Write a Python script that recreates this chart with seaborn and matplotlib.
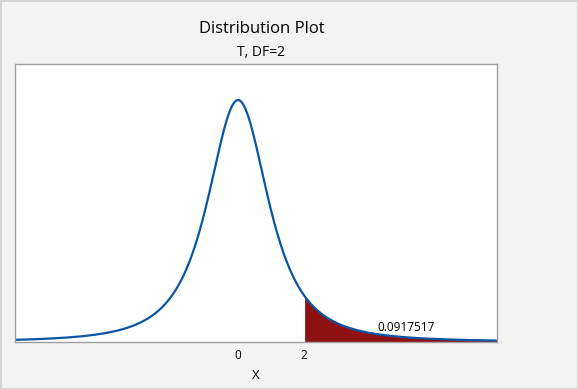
import numpy as np
import pandas as pd
import matplotlib
matplotlib.use("Agg")
import matplotlib.pyplot as plt
import seaborn as sns
from math import lgamma, pi, sqrt, exp

# Distribution settings shown in the chart
dist_name = "T"
deg_freedom = 2
x_cutoff = 2
tail_label = "0.0917517"
x_ticks = [0, 2]
x_range = (-6.76, 7.85)

# Student t density for the given degrees of freedom
x = np.linspace(x_range[0], x_range[1], 800)
coef = exp(lgamma((deg_freedom + 1) / 2) - lgamma(deg_freedom / 2)) / sqrt(deg_freedom * pi)
density = coef * (1 + x ** 2 / deg_freedom) ** (-(deg_freedom + 1) / 2)
df = pd.DataFrame({"x": x, "density": density})

sns.set_style("white")
plt.rcParams["font.family"] = ["Open Sans", "DejaVu Sans"]

fig = plt.figure(figsize=(5.78, 3.89), dpi=100, facecolor="#f3f3f3",
                 edgecolor="#d4d4d4", linewidth=2)
ax = fig.add_axes([0.026, 0.121, 0.834, 0.714])
ax.set_facecolor("white")

# shaded upper tail
tail = df[df["x"] >= x_cutoff]
ax.fill_between(tail["x"], 0, tail["density"], color="#8e1214", linewidth=0)
sns.lineplot(data=df, x="x", y="density", ax=ax, color="#0a56a4", linewidth=1.6)

ax.set_xlim(*x_range)
ax.set_ylim(0, 0.406)
ax.set_yticks([])
ax.set_xticks(x_ticks)
ax.set_xticklabels([str(t) for t in x_ticks], fontsize=8.5, color="black")
ax.tick_params(axis="x", length=0, pad=5)
ax.set_xlabel("X", fontsize=9.5, labelpad=5, color="black")
ax.set_ylabel("")
for s in ax.spines.values():
    s.set_color("#a0a0a0")
    s.set_linewidth(1)

ax.text(5.1, 0.021, tail_label, fontsize=8.5, ha="center", va="center", color="black")

fig.text(0.453, 0.925, "Distribution Plot", fontsize=12, ha="center", va="center", color="black")
fig.text(0.452, 0.865, f"{dist_name}, DF={deg_freedom}", fontsize=10, ha="center", va="center", color="black")

fig.savefig("out.png", dpi=100, facecolor=fig.get_facecolor(), edgecolor=fig.get_edgecolor())
